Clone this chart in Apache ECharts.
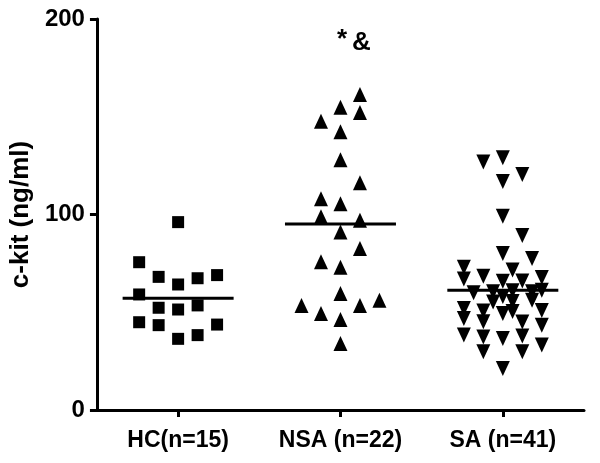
<!DOCTYPE html>
<html>
<head>
<meta charset="utf-8">
<script src="https://cdn.jsdelivr.net/npm/echarts@6/dist/echarts.min.js"></script>
<style>html,body{margin:0;padding:0;background:#fff}#c{width:600px;height:463px}</style>
</head>
<body>
<div id="c"></div>
<script>
var categories = ['HC(n=15)', 'NSA (n=22)', 'SA (n=41)'];
var yTicks = [0, 100, 200];
var yTitle = 'c-kit (ng/ml)';
var annotation = '*&';

var hcValues = [96.1, 75.6, 68.1, 64.2, 67.4, 69.0, 59.1, 52.3, 51.4, 53.5, 44.9, 43.4, 36.4, 38.3, 43.7];
var hcCols   = [0, -2, -1, 0, 1, 2, -2, -1, 0, 1, -2, -1, 0, 1, 2];

var nsaValues = [161.4, 154.9, 152.2, 147.7, 142.3, 128.0, 116.2, 108.0, 105.5, 98.8, 97.1, 91.1, 82.6, 75.8, 73.0, 59.6, 53.5, 49.4, 53.5, 56.2, 46.3, 34.0];
var nsaCols   = [1, 0, 1, -1, 0, 0, 1, -1, 0, -1, 1, 0, 1, -1, 0, 0, -2, -1, 1, 2, 0, 0];

var saValues = [126.8, 129.0, 120.5, 116.9, 99.1, 89.3, 80.0, 77.5, 73.0, 71.6, 67.0, 68.4, 65.8, 66.0, 67.8,
                61.3, 60.0, 60.5, 61.0, 60.5, 58.0, 55.3, 55.5, 56.2, 51.9, 50.6, 49.4, 50.4, 50.9,
                46.8, 45.1, 43.4, 45.0, 38.3, 37.4, 36.6, 37.8, 33.2, 29.8, 29.8, 21.2];
var saCols   = [-1, 0, 1, 0, 0, 1, 0, 1.5, -2, 0.5, -2, -1, 0, 1, 2,
                2, -1.5, -0.5, 0.5, 1.5, 0, -0.5, 0.5, 1.5, -2, -1, 0, 0.5, 2,
                -2, -1, 2, 1, -2, -1, 0, 1, 2, -1, 1, 0];

var means = [57.2, 95.2, 61.3];

var COL_STEP = 0.12;
function pts(groupIndex, values, cols) {
  return values.map(function (v, i) { return [groupIndex + cols[i] * COL_STEP, v]; });
}

var FONT = '"Liberation Sans", Arial, sans-serif';
var chart = echarts.init(document.getElementById('c'), null, {renderer: 'canvas'});
chart.setOption({
  backgroundColor: '#ffffff',
  animation: false,
  grid: {left: 95, right: 16, top: 19, bottom: 53},
  xAxis: [{
    type: 'category',
    data: categories,
    boundaryGap: true,
    axisLine: {onZero: false, lineStyle: {color: '#000', width: 3}},
    axisTick: {show: true, alignWithLabel: true, length: 7, lineStyle: {color: '#000', width: 3}},
    axisLabel: {interval: 0, color: '#000', fontFamily: FONT, fontWeight: 'bold', fontSize: 23, margin: 19},
    splitLine: {show: false}
  }, {
    type: 'value',
    min: -0.5,
    max: 2.5,
    show: false,
    axisLine: {onZero: false}
  }],
  yAxis: {
    type: 'value',
    min: yTicks[0],
    max: yTicks[yTicks.length - 1],
    interval: yTicks[1] - yTicks[0],
    name: yTitle,
    nameLocation: 'middle',
    nameRotate: 90,
    nameGap: 62,
    nameTextStyle: {color: '#000', fontFamily: FONT, fontWeight: 'bold', fontSize: 26},
    axisLine: {show: true, onZero: false, lineStyle: {color: '#000', width: 3}},
    axisTick: {show: true, length: 7, lineStyle: {color: '#000', width: 3}},
    axisLabel: {color: '#000', fontFamily: FONT, fontWeight: 'bold', fontSize: 24, margin: 12},
    splitLine: {show: false}
  },
  graphic: [{
    type: 'text',
    left: 337,
    top: 27,
    style: {
      text: '{s|' + annotation.charAt(0) + '}{a|' + annotation.charAt(1) + '}',
      rich: {
        s: {fontFamily: FONT, fontWeight: 'bold', fontSize: 26, fill: '#000', padding: [0, 5, 6, 0]},
        a: {fontFamily: FONT, fontWeight: 'bold', fontSize: 26, fill: '#000'}
      }
    }
  }],
  series: [{
    type: 'scatter', xAxisIndex: 1, symbol: 'rect', symbolSize: 12,
    itemStyle: {color: '#000', opacity: 1},
    data: pts(0, hcValues, hcCols)
  }, {
    type: 'scatter', xAxisIndex: 1, symbol: 'triangle', symbolSize: [14, 15],
    itemStyle: {color: '#000', opacity: 1},
    data: pts(1, nsaValues, nsaCols)
  }, {
    type: 'scatter', xAxisIndex: 1, symbol: 'triangle', symbolSize: [14, 15], symbolRotate: 180,
    itemStyle: {color: '#000', opacity: 1},
    data: pts(2, saValues, saCols)
  }, {
    type: 'scatter', xAxisIndex: 1, symbol: 'rect', symbolSize: [111, 3],
    itemStyle: {color: '#000', opacity: 1},
    data: means.map(function (m, i) { return [i, m]; }),
    z: 3
  }]
});
</script>
</body>
</html>
